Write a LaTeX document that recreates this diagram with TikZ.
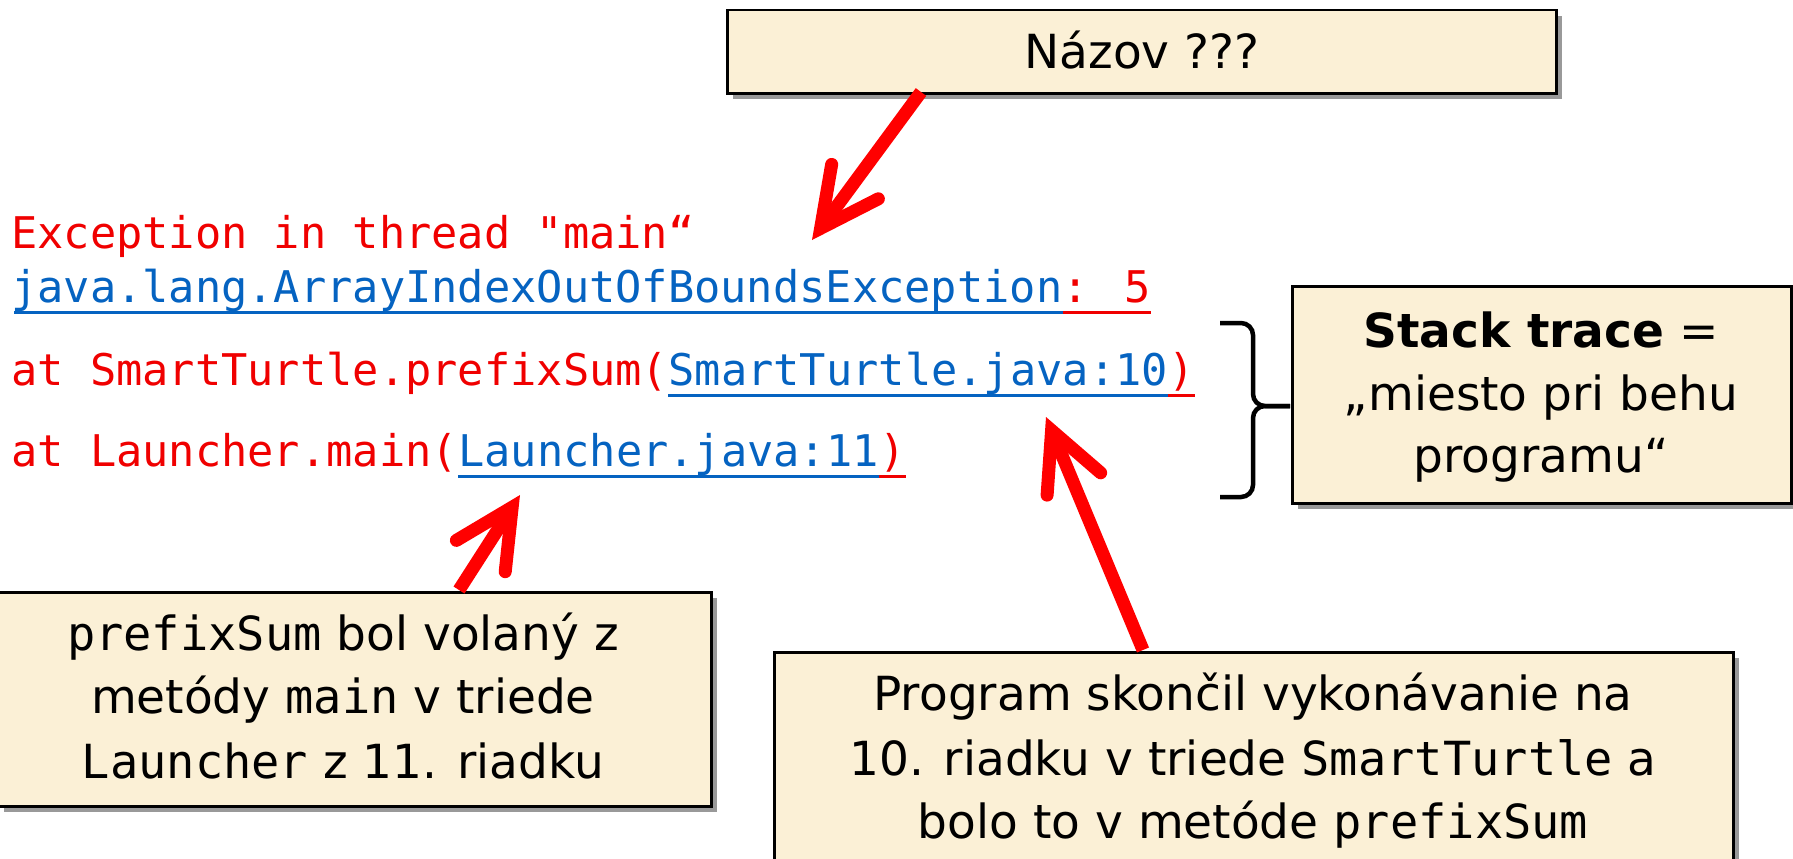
\documentclass[tikz,border=0pt]{standalone}
\usepackage{fontspec}
\setmainfont{DejaVu Sans}
\newfontfamily\codefont{DejaVu Sans Mono}
\usetikzlibrary{arrows.meta,shadows,calc}
\definecolor{parch}{RGB}{251,240,214}
\definecolor{codered}{RGB}{240,0,0}
\definecolor{codeblue}{RGB}{5,99,193}
\begin{document}
\begin{tikzpicture}[x=1pt,y=-1pt,
  box/.style={draw=black,line width=2.5pt,fill=parch,anchor=north west,inner sep=0pt,
    drop shadow={shadow xshift=6pt,shadow yshift=-6pt,opacity=0.4,fill=black}},
  boxtext/.style={anchor=base,inner sep=0pt,font=\fontsize{47}{64}\selectfont},
  code/.style={anchor=base west,inner sep=0pt,font=\codefont\fontsize{43.65}{50}\selectfont},
  ulblue/.style={draw=codeblue,line width=3pt},
  ulred/.style={draw=codered,line width=3pt},
  redarrow/.style={draw=red,line width=13pt,-{Straight Barb[length=58pt,width=58pt,line cap=round,line join=miter]}},
  bracestyle/.style={draw=black,line width=4.5pt,rounded corners=12pt}
]
\useasboundingbox[fill=white] (0,0) rectangle (1793,859);

% code lines
\node[code,text=codered] (c1) at (11,248) {Exception in thread "main“};
\node[code,text=codeblue] (c2a) at (11,302) {java.lang.ArrayIndexOutOfBoundsException};
\node[code,text=codered] (c2b) at (c2a.base east) {: 5};
\node[code,text=codered] (c3a) at (11,385) {at SmartTurtle.prefixSum(};
\node[code,text=codeblue] (c3b) at (c3a.base east) {SmartTurtle.java:10};
\node[code,text=codered] (c3c) at (c3b.base east) {)};
\node[code,text=codered] (c4a) at (11,466) {at Launcher.main(};
\node[code,text=codeblue] (c4b) at (c4a.base east) {Launcher.java:11};
\node[code,text=codered] (c4c) at (c4b.base east) {)};

\draw[ulblue] ($(c2a.base west)+(3,10)$) -- ($(c2a.base east)+(0,10)$);
\draw[ulred] ($(c2b.base west)+(0,10)$) -- ($(c2b.base east)+(0,10)$);
\draw[ulblue] ($(c3b.base west)+(0,10)$) -- ($(c3b.base east)+(0,10)$);
\draw[ulred] ($(c3c.base west)+(0,10)$) -- ($(c3c.base east)+(0,10)$);
\draw[ulblue] ($(c4b.base west)+(0,10)$) -- ($(c4b.base east)+(0,10)$);
\draw[ulred] ($(c4c.base west)+(0,10)$) -- ($(c4c.base east)+(0,10)$);

% boxes
\node[box,minimum width=829pt,minimum height=83pt] (nazov) at (726,9) {};
\node[boxtext] (nazovt) at (1142,68) {Názov ???};

\node[box,minimum width=499pt,minimum height=217pt] (stack) at (1291,285) {};
\node[boxtext] (st1) at (1541,347) {\textbf{Stack trace} =};
\node[boxtext] (st2) at (1541,410) {„miesto pri behu};
\node[boxtext] (st3) at (1541,472) {programu“};

\node[box,minimum width=713pt,minimum height=214pt] (b1) at (-3,591) {};
\node[boxtext] (b1l1) at (343,650) {{\codefont prefixSum} bol volaný z};
\node[boxtext] (b1l2) at (343,713) {metódy {\codefont main} v triede};
\node[boxtext] (b1l3) at (343,778) {{\codefont Launcher} z 11. riadku};

\node[box,minimum width=959pt,minimum height=240pt] (b2) at (773,651) {};
\node[boxtext] (b2l1) at (1253,710) {Program skončil vykonávanie na};
\node[boxtext] (b2l2) at (1253,775) {10. riadku v triede {\codefont SmartTurtle} a};
\node[boxtext] (b2l3) at (1253,838) {bolo to v metóde {\codefont prefixSum}};

% brace
\coordinate (brtop) at (1220,323);
\coordinate (brbot) at (1220,497);
\coordinate (brmid) at (1253,406);
\coordinate (brtip) at (1290,406);
\draw[bracestyle] (brtop) -| (brmid) -- (brtip);
\draw[bracestyle] (brbot) -| (brmid) -- (brtip);

% arrows
\coordinate (a1s) at (921,92);
\coordinate (a1t) at (812,240);
\coordinate (a2s) at (459,590);
\coordinate (a2t) at (520,495);
\coordinate (a3s) at (1143,650);
\coordinate (a3t) at (1046,417);
\draw[redarrow] (a1s) -- (a1t);
\draw[redarrow] (a2s) -- (a2t);
\draw[redarrow] (a3s) -- (a3t);
\end{tikzpicture}
\end{document}
